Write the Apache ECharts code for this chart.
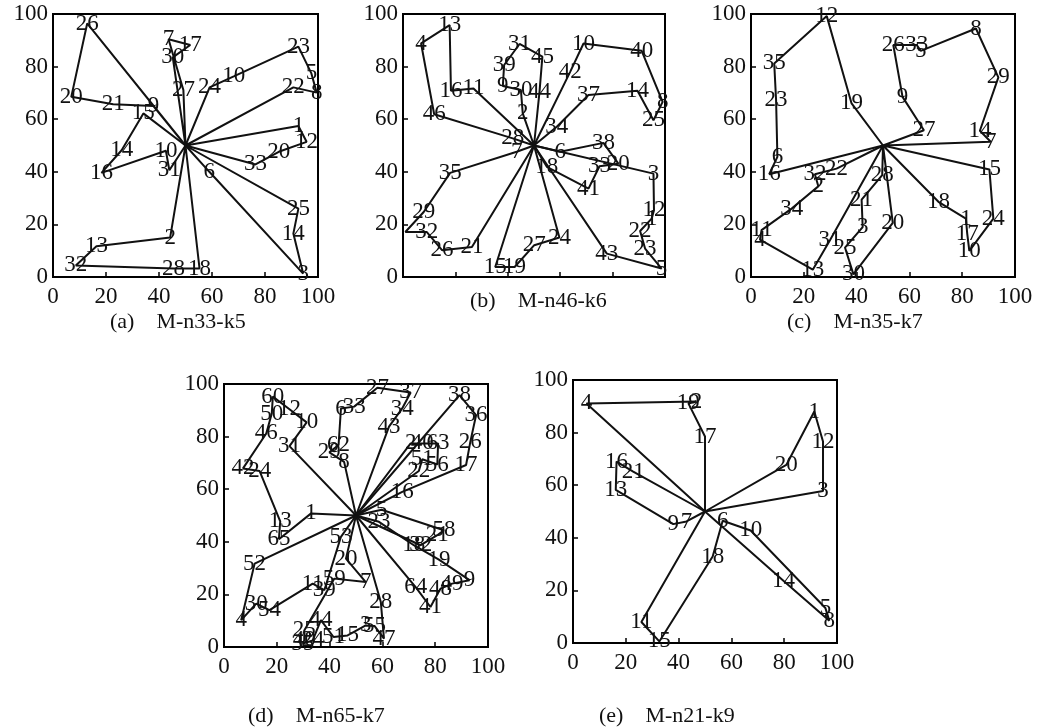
<!DOCTYPE html>
<html>
<head>
<meta charset="utf-8">
<script src="https://cdn.jsdelivr.net/npm/echarts@6/dist/echarts.min.js"></script>
<style>html,body{margin:0;padding:0;background:#fff;}#c{width:1038px;height:728px;}</style>
</head>
<body>
<div id="c"></div>
<script>
// depot location shared by all instances
const depot = [50, 50];
const ticks = [0, 20, 40, 60, 80, 100];

// (a) M-n33-k5 routes: [label, x, y]
const routesA = [
  [['9',37.9,65.0],['21',22.7,65.7],['20',6.9,68.5],['26',12.9,96.4]],
  [['15',34.1,62.2],['14',25.9,48.2],['16',18.3,39.6],['10',42.6,48.0],['31',43.9,40.6]],
  [['27',49.2,71.1],['7',43.6,90.4],['17',51.8,88.2],['30',45.2,83.5]],
  [['24',59.1,72.1],['10',68.2,76.3],['23',92.6,87.6],['5',97.5,77.4],['8',99.5,70.1],['22',90.7,72.1]],
  [['1',92.6,57.4],['12',95.7,51.4],['20',85.2,47.6],['33',76.4,42.8]],
  [['25',92.6,26.0],['14',90.7,16.5],['3',94.4,1.3],['6',59.0,40.0]],
  [['2',44.2,15.0],['13',16.4,11.7],['32',8.6,4.4],['28',45.5,3.2],['18',55.3,3.2]]
];

// (b) M-n46-k6 routes
const routesB = [
  [['28',41.9,52.7],['46',11.9,61.9],['4',6.9,88.8],['13',17.8,95.8],['16',18.3,70.8],['11',26.9,71.7]],
  [['2',45.7,62.2],['30',45.0,71.1],['9',38.1,72.6],['39',38.6,80.6],['31',44.5,88.6],['45',53.2,83.8],['44',52.1,70.4]],
  [['42',63.8,78.0],['10',68.9,88.8],['40',91.1,86.0],['8',99.1,66.6],['25',95.6,59.6],['14',89.5,70.8],['37',70.8,69.2],['34',58.7,57.1]],
  [['6',60.0,47.6],['38',76.5,51.0],['20',82.2,43.1],['33',75.0,42.1],['41',70.8,33.6],['18',54.9,41.9]],
  [['3',95.6,39.3],['12',95.8,25.4],['1',94.9,22.2],['22',90.5,17.5],['23',92.4,10.8],['5',98.7,3.2],['43',77.8,8.9]],
  [['7',43.4,47.6],['35',18.0,39.6],['29',7.9,24.7],['',0.9,17.1],['32',9.1,17.1],['26',14.9,10.2],['21',26.3,11.4]],
  [['15',35.2,3.8],['19',42.6,3.8],['27',50.1,12.1],['24',59.7,15.0]]
];

// (c) M-n35-k7 routes
const routesC = [
  [['19',38.1,66.0],['12',28.7,99.2],['35',8.8,81.2],['23',9.5,67.3],['6',10.0,45.7],['16',6.9,39.1]],
  [['22',32.4,41.2],['32',24.2,39.1],['2',25.5,34.5],['34',15.4,26.0],['11',4.0,17.8],['4',3.4,14.2],['13',23.4,2.8],['31',29.9,14.0]],
  [['28',49.7,38.7],['21',41.9,29.4],['3',42.3,19.0],['25',35.6,11.2],['30',38.8,1.0],['20',53.7,20.6]],
  [['27',65.5,55.8],['9',57.4,68.5],['26',53.9,88.2],['33',62.8,88.2],['5',64.3,86.0],['8',85.2,94.5],['29',93.7,75.9],['14',86.7,55.6],['7',90.8,51.4]],
  [['15',90.3,40.9],['24',91.8,22.2],['10',82.7,9.9],['17',81.9,16.5],['1',81.4,22.2],['18',71.0,28.6]]
];

// (d) M-n65-k7 routes
const routesD = [
  [['31',24.8,76.4],['10',31.3,85.4],['12',24.8,90.4],['60',18.5,95.2],['50',18.1,88.8],['46',16.0,81.2],['42',7.2,67.9],['24',13.5,66.9],['13',21.3,47.8],['65',20.8,41.0],['1',33.0,50.8]],
  [['8',45.5,70.4],['29',39.9,74.0],['62',43.4,76.8],['6',44.3,90.7],['33',49.3,91.4],['27',58.1,98.6],['37',70.7,96.8],['34',67.5,90.7],['43',62.5,83.8]],
  [['2',70.7,77.4],['40',75.1,77.4],['63',81.1,77.4],['56',80.8,69.4],['51',75.1,71.4],['22',73.8,66.9]],
  [['38',89.2,95.8],['36',95.5,88.2],['26',93.3,78.0],['17',91.7,69.2],['16',67.5,59.0]],
  [['5',59.7,52.2],['58',83.3,44.4],['21',80.8,42.5],['32',74.5,38.7]],
  [['23',58.7,47.6],['18',71.9,38.7],['19',81.4,33.2],['9',93.0,25.4],['49',86.4,24.1],['48',82.0,22.2],['41',78.2,15.2],['64',72.6,22.8]],
  [['52',11.6,31.7],['4',6.5,10.2],['30',12.2,16.5],['54',17.2,14.0],['11',33.6,24.1],['39',38.0,21.6],['53',44.3,41.9]],
  [['20',46.2,33.6],['7',53.7,24.7],['59',41.8,26.0],['25',30.4,6.3],['40',30.4,2.5],['35',29.8,1.3],['24',33.6,2.5],['44',36.7,10.2],['51',41.5,3.8],['15',46.8,4.4],['3',53.7,8.2],['55',57.0,8.0],['47',60.6,3.2],['28',59.4,17.1]]
];

// (e) M-n21-k9 routes
const routesE = [
  [['4',5.1,91.1],['2',46.8,91.8],['19',43.7,91.1],['17',50.0,78.5]],
  [['21',22.8,65.2],['16',16.5,69.0],['13',16.2,58.2],['9',38.0,45.2],['7',43.0,46.2]],
  [['20',80.8,67.7],['1',91.4,88.0],['12',94.7,76.6],['3',94.7,57.8]],
  [['11',25.9,8.0],['15',32.7,0.6],['18',52.9,32.9],['6',56.7,46.5],['10',67.3,42.8],['5',95.6,13.3],['8',97.1,8.5],['14',79.7,23.7]]
];

const captions = ['(a)    M-n33-k5', '(b)    M-n46-k6', '(c)    M-n35-k7', '(d)    M-n65-k7', '(e)    M-n21-k9'];

const FONT = 'Liberation Serif';
const FS = 23;
const INK = '#111';

const panels = [
  {routes: routesA, grid: {left: 53, top: 14, width: 265, height: 263}, xLabels: true, cap: {left: 105, top: 306}},
  {routes: routesB, grid: {left: 403, top: 14, width: 262, height: 263}, xLabels: false, cap: {left: 465, top: 285}},
  {routes: routesC, grid: {left: 751, top: 14, width: 264, height: 263}, xLabels: true, cap: {left: 782, top: 306}},
  {routes: routesD, grid: {left: 224, top: 384, width: 264, height: 263}, xLabels: true, cap: {left: 243, top: 700}},
  {routes: routesE, grid: {left: 573, top: 380, width: 264, height: 263}, xLabels: true, cap: {left: 594, top: 700}}
];

const grids = [], xAxes = [], yAxes = [], series = [], titles = [];
panels.forEach((p, i) => {
  grids.push(Object.assign({show: true, borderColor: '#000', borderWidth: 2, backgroundColor: 'transparent'}, p.grid));
  const common = {
    gridIndex: i, type: 'value', min: ticks[0], max: ticks[ticks.length - 1], interval: ticks[1] - ticks[0],
    axisLine: {show: true, onZero: false, lineStyle: {color: '#000', width: 2}},
    axisTick: {show: true, inside: true, length: 5, lineStyle: {color: '#000', width: 1.5}},
    splitLine: {show: false}
  };
  xAxes.push(Object.assign({}, common, {
    axisLabel: {show: p.xLabels, margin: 8, fontFamily: FONT, fontSize: FS, color: INK}
  }));
  yAxes.push(Object.assign({}, common, {
    axisLabel: {show: true, margin: 5, fontFamily: FONT, fontSize: FS, color: INK}
  }));
  p.routes.forEach(r => {
    const data = [{name: '', value: depot.slice()}]
      .concat(r.map(n => ({name: n[0], value: [n[1], n[2]]})))
      .concat([{name: '', value: depot.slice()}]);
    series.push({
      type: 'line', xAxisIndex: i, yAxisIndex: i, data: data,
      symbol: 'circle', symbolSize: 1, showSymbol: true,
      itemStyle: {color: 'rgba(0,0,0,0)'},
      lineStyle: {color: INK, width: 2},
      label: {show: true, position: 'inside', formatter: '{b}', fontFamily: FONT, fontSize: FS, color: INK},
      labelLayout: {hideOverlap: false},
      clip: false, silent: true, animation: false
    });
  });
  titles.push({
    text: captions[i], left: p.cap.left, top: p.cap.top,
    textStyle: {fontFamily: FONT, fontSize: 22, fontWeight: 'normal', color: INK}
  });
});

const chart = echarts.init(document.getElementById('c'), null, {renderer: 'canvas'});
chart.setOption({
  backgroundColor: '#fff',
  animation: false,
  title: titles,
  grid: grids,
  xAxis: xAxes,
  yAxis: yAxes,
  series: series
});
</script>
</body>
</html>
